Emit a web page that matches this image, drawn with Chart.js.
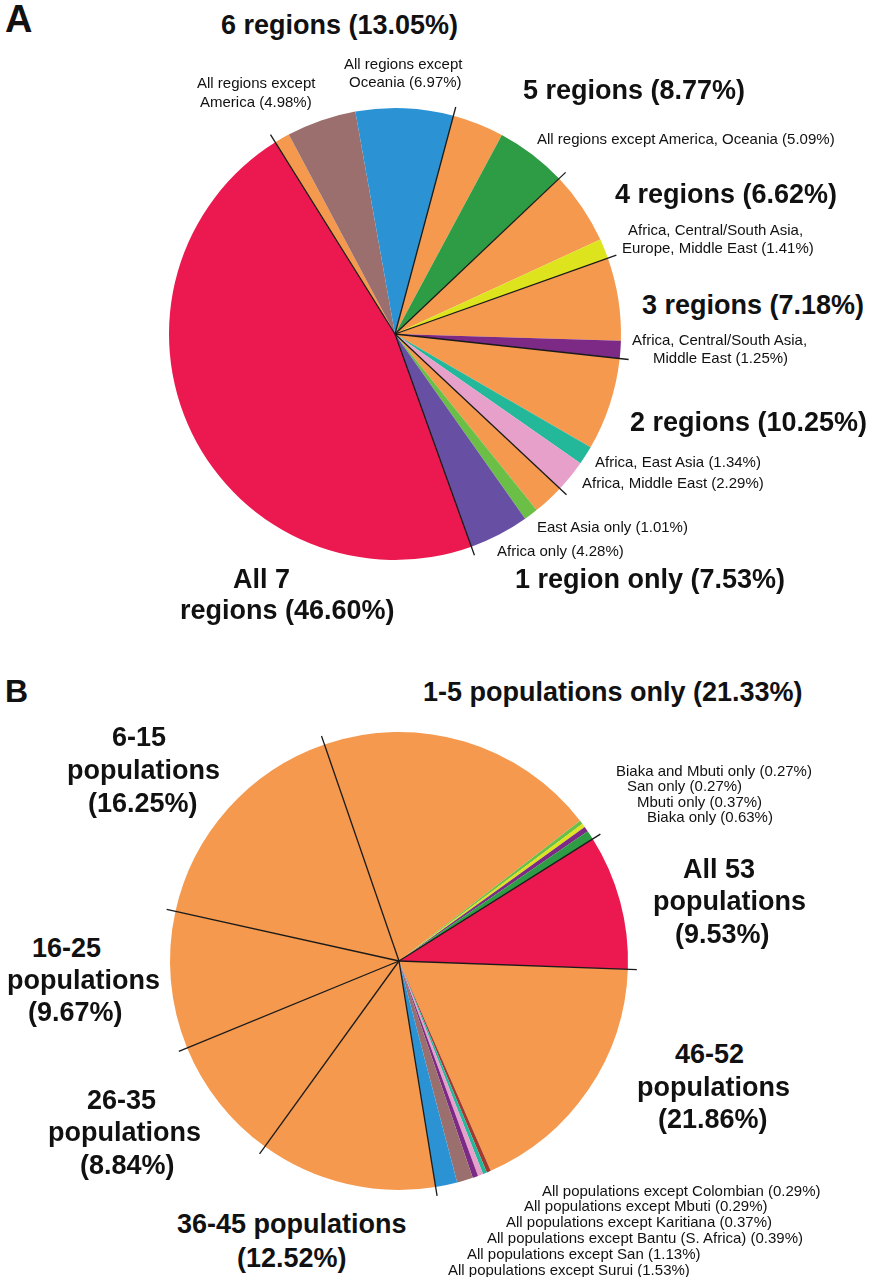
<!DOCTYPE html>
<html lang="en">
<head>
  <meta charset="UTF-8">
  <title>Shared variants by region and population</title>
  <script src="https://cdn.jsdelivr.net/npm/chart.js"></script>
  <style>
    body {
      margin: 0;
      background: #fff;
      font-family: "Liberation Sans", Arial, Helvetica, sans-serif;
    }
    #page {
      position: relative;
      width: 873px;
      height: 1277px;
      overflow: hidden;
    }
    canvas {
      position: absolute;
    }
    .lbl {
      position: absolute;
      white-space: nowrap;
      color: #111;
    }
  </style>
</head>
<body>
  <div id="page">
    <canvas id="pieA" width="480" height="480" style="left:155px; top:94px;"></canvas>
    <canvas id="pieB" width="486" height="486" style="left:156px; top:718px;"></canvas>
  </div>

  <script>
    // ---- Panel A: variants shared across geographic regions (clockwise) ----
    const regionSlices = [
      '6 regions (other)', 'All regions except America', 'All regions except Oceania',
      '5 regions (other)', 'All regions except America, Oceania',
      '4 regions (other)', 'Africa, Central/South Asia, Europe, Middle East',
      '3 regions (other)', 'Africa, Central/South Asia, Middle East',
      '2 regions (other)', 'Africa, East Asia', 'Africa, Middle East',
      '1 region (other)', 'East Asia only', 'Africa only',
      'All 7 regions'
    ];
    const regionGroups = [6, 6, 6, 5, 5, 4, 4, 3, 3, 2, 2, 2, 1, 1, 1, 7];
    const regionShares = [1.10, 4.98, 6.97, 3.68, 5.09, 5.21, 1.41, 5.93, 1.25, 6.62, 1.34, 2.29, 2.24, 1.01, 4.28, 46.60];

    // ---- Panel B: variants shared across the 53 populations (clockwise) ----
    const popSlices = [
      '1-5 populations (other)', 'Biaka and Mbuti only', 'San only', 'Mbuti only', 'Biaka only',
      'All 53 populations',
      '46-52 populations (other)', 'All populations except Colombian', 'All populations except Mbuti',
      'All populations except Karitiana', 'All populations except Bantu (S. Africa)',
      'All populations except San', 'All populations except Surui',
      '36-45 populations', '26-35 populations', '16-25 populations', '6-15 populations'
    ];
    const popGroups = ['1-5', '1-5', '1-5', '1-5', '1-5', '53', '46-52', '46-52', '46-52', '46-52', '46-52', '46-52', '46-52', '36-45', '26-35', '16-25', '6-15'];
    const popShares = [19.79, 0.27, 0.27, 0.37, 0.63, 9.53, 17.86, 0.29, 0.29, 0.37, 0.39, 1.13, 1.53, 12.52, 8.84, 9.67, 16.25];

    // colours
    const ORANGE = '#f5994e', RED = '#eb1950', BROWN = '#9a6f6d', BLUE = '#2b93d4',
          GREEN = '#2e9b45', YELLOW = '#dde31d', PURPLE = '#7c2a85', TEAL = '#23b899',
          PINK = '#e7a0c9', LIME = '#6cbf46', VIOLET = '#6750a3', MAROON = '#a33a2e';

    const regionColors = [ORANGE, BROWN, BLUE, ORANGE, GREEN, ORANGE, YELLOW, ORANGE, PURPLE,
                          ORANGE, TEAL, PINK, ORANGE, LIME, VIOLET, RED];
    const popColors = [ORANGE, LIME, YELLOW, PURPLE, GREEN, RED, ORANGE, MAROON, TEAL, PINK,
                       PURPLE, BROWN, BLUE, ORANGE, ORANGE, ORANGE, ORANGE];

    // black spokes at every group boundary, running a little past the rim
    const separatorPlugin = {
      id: 'separators',
      afterDatasetsDraw(chart, args, opts) {
        const groups = opts.groups;
        const arcs = chart.getDatasetMeta(0).data;
        const ctx = chart.ctx;
        ctx.save();
        ctx.strokeStyle = opts.color;
        ctx.lineWidth = opts.width;
        for (let i = 0; i < arcs.length; i++) {
          const prev = groups[(i - 1 + groups.length) % groups.length];
          if (prev === groups[i]) continue;
          const p = arcs[i].getProps(['x', 'y', 'startAngle', 'outerRadius'], true);
          const r = p.outerRadius + opts.extend;
          ctx.beginPath();
          ctx.moveTo(p.x, p.y);
          ctx.lineTo(p.x + Math.cos(p.startAngle) * r, p.y + Math.sin(p.startAngle) * r);
          ctx.stroke();
        }
        ctx.restore();
      }
    };

    function makePie(id, labels, values, colors, groups, rotation) {
      return new Chart(document.getElementById(id).getContext('2d'), {
        type: 'pie',
        data: {
          labels: labels,
          datasets: [{
            data: values,
            backgroundColor: colors,
            borderWidth: 0,
            hoverOffset: 0
          }]
        },
        options: {
          responsive: false,
          animation: false,
          events: [],
          rotation: rotation,
          layout: { padding: 14 },
          plugins: {
            legend: { display: false },
            tooltip: { enabled: false },
            separators: { groups: groups, extend: 9, color: '#1a1a1a', width: 1.3 }
          }
        },
        plugins: [separatorPlugin]
      });
    }

    makePie('pieA', regionSlices, regionShares, regionColors, regionGroups, -32);
    makePie('pieB', popSlices, popShares, popColors, popGroups, -19);

    // ---- text: [text, left x, middle y, size, bold] ----
    const labels = [
      ['A', 5, 19, 38, true],
      ['6 regions (13.05%)', 221, 25, 27, true],
      ['All regions except', 344, 64, 15, false],
      ['Oceania (6.97%)', 349, 82, 15, false],
      ['All regions except', 197, 83, 15, false],
      ['America (4.98%)', 200, 102, 15, false],
      ['5 regions (8.77%)', 523, 90, 27, true],
      ['All regions except America, Oceania (5.09%)', 537, 139, 15, false],
      ['4 regions (6.62%)', 615, 194, 27, true],
      ['Africa, Central/South Asia,', 628, 230, 15, false],
      ['Europe, Middle East (1.41%)', 622, 248, 15, false],
      ['3 regions (7.18%)', 642, 305, 27, true],
      ['Africa, Central/South Asia,', 632, 340, 15, false],
      ['Middle East (1.25%)', 653, 358, 15, false],
      ['2 regions (10.25%)', 630, 422, 27, true],
      ['Africa, East Asia (1.34%)', 595, 462, 15, false],
      ['Africa, Middle East (2.29%)', 582, 483, 15, false],
      ['East Asia only (1.01%)', 537, 527, 15, false],
      ['Africa only (4.28%)', 497, 551, 15, false],
      ['1 region only (7.53%)', 515, 579, 27, true],
      ['All 7', 233, 579, 27, true],
      ['regions (46.60%)', 180, 610, 27, true],

      ['B', 5, 691, 32, true],
      ['1-5 populations only (21.33%)', 423, 692, 27, true],
      ['Biaka and Mbuti only (0.27%)', 616, 771, 15, false],
      ['San only (0.27%)', 627, 786, 15, false],
      ['Mbuti only (0.37%)', 637, 802, 15, false],
      ['Biaka only (0.63%)', 647, 817, 15, false],
      ['6-15', 112, 737, 27, true],
      ['populations', 67, 770, 27, true],
      ['(16.25%)', 88, 803, 27, true],
      ['All 53', 683, 869, 27, true],
      ['populations', 653, 901, 27, true],
      ['(9.53%)', 675, 934, 27, true],
      ['16-25', 32, 948, 27, true],
      ['populations', 7, 980, 27, true],
      ['(9.67%)', 28, 1012, 27, true],
      ['46-52', 675, 1054, 27, true],
      ['populations', 637, 1087, 27, true],
      ['(21.86%)', 658, 1119, 27, true],
      ['26-35', 87, 1100, 27, true],
      ['populations', 48, 1132, 27, true],
      ['(8.84%)', 80, 1165, 27, true],
      ['36-45 populations', 177, 1224, 27, true],
      ['(12.52%)', 237, 1258, 27, true],
      ['All populations except Colombian (0.29%)', 542, 1191, 15, false],
      ['All populations except Mbuti (0.29%)', 524, 1206, 15, false],
      ['All populations except Karitiana (0.37%)', 506, 1222, 15, false],
      ['All populations except Bantu (S. Africa) (0.39%)', 487, 1238, 15, false],
      ['All populations except San (1.13%)', 467, 1254, 15, false],
      ['All populations except Surui (1.53%)', 448, 1270, 15, false]
    ];

    const page = document.getElementById('page');
    labels.forEach(([text, x, y, size, bold]) => {
      const el = document.createElement('div');
      el.className = 'lbl';
      el.textContent = text;
      const lh = Math.round(size * 1.2);
      el.style.fontSize = size + 'px';
      el.style.lineHeight = lh + 'px';
      el.style.fontWeight = bold ? 'bold' : 'normal';
      el.style.left = x + 'px';
      el.style.top = (y - lh / 2) + 'px';
      page.appendChild(el);
    });
  </script>
</body>
</html>
